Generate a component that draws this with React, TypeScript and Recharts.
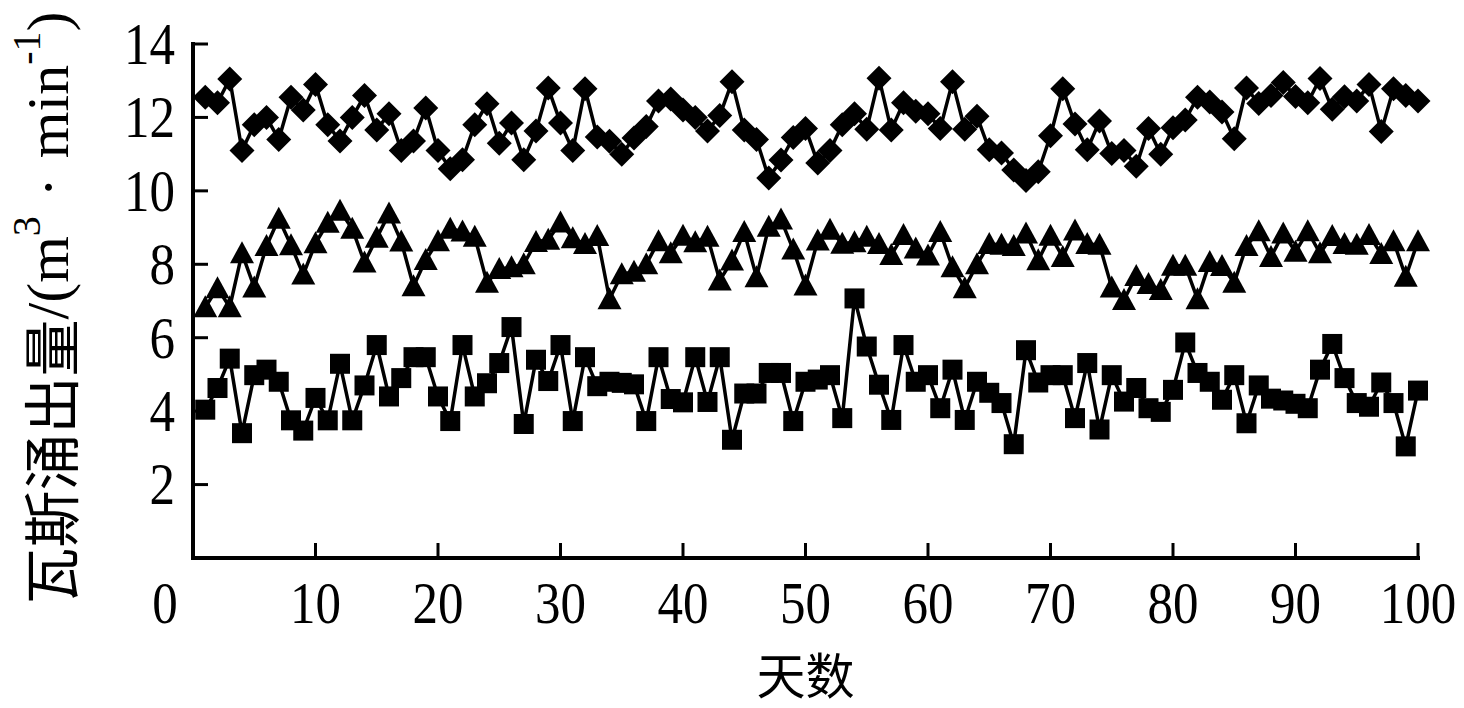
import React from 'react';
import { LineChart, Line, XAxis, YAxis } from 'recharts';

const days: number[] = Array.from({ length: 100 }, (_, i) => i + 1);

const diamondSeries: number[] = [
  12.55, 12.4, 13.05, 11.1, 11.8, 12.0, 11.4, 12.55, 12.2, 12.9,
  11.8, 11.36, 12.0, 12.6, 11.66, 12.1, 11.1, 11.36, 12.26, 11.1,
  10.6, 10.85, 11.8, 12.37, 11.3, 11.85, 10.85, 11.63, 12.8, 11.85,
  11.1, 12.78, 11.47, 11.35, 11.0, 11.44, 11.75, 12.45, 12.5, 12.2,
  12.0, 11.63, 12.05, 12.97, 11.66, 11.4, 10.35, 10.84, 11.45, 11.7,
  10.76, 11.1, 11.8, 12.1, 11.68, 13.07, 11.66, 12.4, 12.17, 12.1,
  11.7, 12.97, 11.68, 12.03, 11.12, 11.03, 10.57, 10.28, 10.52, 11.5,
  12.78, 11.82, 11.12, 11.9, 11.02, 11.1, 10.67, 11.7, 11.0, 11.72,
  11.93, 12.55, 12.42, 12.15, 11.42, 12.8, 12.38, 12.6, 12.95, 12.57,
  12.4, 13.06, 12.22, 12.56, 12.45, 12.9, 11.62, 12.78, 12.6, 12.45,
];

const triangleSeries: number[] = [
  6.83, 7.35, 6.83, 8.3, 7.37, 8.5, 9.24, 8.52, 7.72, 8.57,
  9.13, 9.46, 8.97, 8.05, 8.72, 9.38, 8.62, 7.4, 8.12, 8.63,
  8.97, 8.89, 8.75, 7.5, 7.87, 7.92, 8.0, 8.61, 8.67, 9.14,
  8.71, 8.55, 8.77, 7.05, 7.73, 7.8, 8.0, 8.63, 8.3, 8.78,
  8.6, 8.75, 7.56, 8.1, 8.88, 7.65, 9.02, 9.22, 8.4, 7.42,
  8.65, 8.94, 8.56, 8.6, 8.75, 8.55, 8.25, 8.8, 8.43, 8.24,
  8.88, 7.92, 7.35, 8.0, 8.55, 8.53, 8.5, 8.84, 8.11, 8.78,
  8.2, 8.92, 8.55, 8.53, 7.37, 7.03, 7.68, 7.46, 7.3, 7.96,
  7.96, 7.05, 8.06, 7.95, 7.5, 8.5, 8.9, 8.2, 8.84, 8.34,
  8.9, 8.3, 8.77, 8.55, 8.53, 8.8, 8.28, 8.63, 7.66, 8.63,
];

const squareSeries: number[] = [
  4.04, 4.63, 5.43, 3.4, 4.98, 5.13, 4.8, 3.75, 3.47, 4.36,
  3.75, 5.29, 3.75, 4.7, 5.8, 4.4, 4.9, 5.47, 5.47, 4.4,
  3.73, 5.8, 4.4, 4.76, 5.31, 6.29, 3.65, 5.4, 4.82, 5.8,
  3.73, 5.47, 4.68, 4.8, 4.77, 4.73, 3.73, 5.47, 4.33, 4.24,
  5.47, 4.25, 5.47, 3.22, 4.48, 4.48, 5.04, 5.04, 3.73, 4.8,
  4.86, 4.98, 3.81, 7.07, 5.76, 4.72, 3.76, 5.8, 4.8, 4.98,
  4.08, 5.13, 3.76, 4.8, 4.5, 4.22, 3.1, 5.66, 4.78, 4.98,
  4.98, 3.81, 5.31, 3.5, 4.98, 4.26, 4.63, 4.08, 3.98, 4.58,
  5.87, 5.04, 4.8, 4.31, 4.98, 3.67, 4.7, 4.34, 4.29, 4.2,
  4.08, 5.13, 5.83, 4.9, 4.22, 4.12, 4.78, 4.22, 3.04, 4.56,
];

const xTicks: number[] = [0, 10, 20, 30, 40, 50, 60, 70, 80, 90, 100];
const yTicks: number[] = [2, 4, 6, 8, 10, 12, 14];
const xTitle = '天数';
const yTitleCJK = '瓦斯涌出量';

const data = days.map((d, i) => ({
  day: d,
  diamond: diamondSeries[i],
  triangle: triangleSeries[i],
  square: squareSeries[i],
}));

const SERIF = '"Liberation Serif", "Times New Roman", serif';
const CJK = '"Noto Sans CJK SC", sans-serif';

const renderDiamond = (p: any) => {
  const { cx, cy, index } = p;
  if (cx == null || cy == null) return <g key={`d-${index}`} />;
  const r = 12.5;
  return (
    <polygon
      key={`d-${index}`}
      points={`${cx},${cy - r} ${cx + r},${cy} ${cx},${cy + r} ${cx - r},${cy}`}
      fill="#000"
    />
  );
};

const renderTriangle = (p: any) => {
  const { cx, cy, index } = p;
  if (cx == null || cy == null) return <g key={`t-${index}`} />;
  return (
    <polygon
      key={`t-${index}`}
      points={`${cx},${cy - 12} ${cx + 12},${cy + 10} ${cx - 12},${cy + 10}`}
      fill="#000"
    />
  );
};

const renderSquare = (p: any) => {
  const { cx, cy, index } = p;
  if (cx == null || cy == null) return <g key={`s-${index}`} />;
  const h = 10;
  return <rect key={`s-${index}`} x={cx - h} y={cy - h} width={2 * h} height={2 * h} fill="#000" />;
};

const XTick = (props: any) => {
  const { x, y, payload } = props;
  const shift = payload.value === 0 ? -28 : 0;
  return (
    <g>
      {payload.value !== 0 && (
        <line x1={x} y1={y} x2={x} y2={y - 15} stroke="#000" strokeWidth={3} />
      )}
      <g transform={`translate(${x + shift},${y + 45}) scale(1,1.17)`}>
        <text
          x={0}
          y={0}
          textAnchor="middle"
          dominantBaseline="central"
          fontFamily={SERIF}
          fontSize={51}
          fill="#000"
        >
          {payload.value}
        </text>
      </g>
    </g>
  );
};

const YTick = (props: any) => {
  const { x, y, payload } = props;
  return (
    <g>
      <line x1={x} y1={y} x2={x + 15} y2={y} stroke="#000" strokeWidth={3} />
      <g transform={`translate(${x - 18},${y}) scale(1,1.17)`}>
        <text
          x={0}
          y={0}
          textAnchor="end"
          dominantBaseline="central"
          fontFamily={SERIF}
          fontSize={51}
          fill="#000"
        >
          {payload.value}
        </text>
      </g>
    </g>
  );
};

const YTitle = (props: any) => {
  const vb = props.viewBox || { x: 0, y: 44, width: 193, height: 514 };
  const cy = vb.y + vb.height / 2 + 7;
  return (
    <text
      transform={`translate(48,${cy}) rotate(-90)`}
      textAnchor="middle"
      dominantBaseline="central"
      fill="#000"
      fontFamily={SERIF}
      fontSize={60}
    >
      <tspan fontFamily={CJK} fontSize={57}>{yTitleCJK}</tspan>
      <tspan>/(m</tspan>
      <tspan fontSize={40} dy={-22}>3</tspan>
      <tspan dy={22} dx={4}>{' · '}</tspan>
      <tspan dx={4}>min</tspan>
      <tspan fontSize={40} dy={-22}>-1</tspan>
      <tspan dy={22}>)</tspan>
    </text>
  );
};

const XTitle = (props: any) => {
  const vb = props.viewBox || { x: 193, y: 558, width: 1225, height: 150 };
  return (
    <text
      x={vb.x + vb.width / 2}
      y={672}
      textAnchor="middle"
      dominantBaseline="central"
      fontFamily={CJK}
      fontSize={49}
      fill="#000"
    >
      {xTitle}
    </text>
  );
};

export default function App() {
  return (
    <div style={{ position: 'absolute', left: 0, top: 0, width: 1464, height: 708, background: '#fff' }}>
      <LineChart
        width={1464}
        height={708}
        data={data}
        margin={{ top: 44, right: 46, bottom: 0, left: 0 }}
      >
        <XAxis
          dataKey="day"
          type="number"
          domain={[0, 100]}
          ticks={xTicks}
          interval={0}
          height={150}
          tickSize={0}
          tickMargin={0}
          tickLine={false}
          axisLine={{ stroke: '#000', strokeWidth: 4, strokeLinecap: 'square' }}
          tick={<XTick />}
          label={<XTitle />}
        />
        <YAxis
          type="number"
          domain={[0, 14]}
          ticks={yTicks}
          interval={0}
          width={193}
          tickSize={0}
          tickMargin={0}
          tickLine={false}
          axisLine={{ stroke: '#000', strokeWidth: 4, strokeLinecap: 'square' }}
          tick={<YTick />}
          label={<YTitle />}
        />
        <Line
          dataKey="square"
          stroke="#000"
          strokeWidth={3.5}
          dot={renderSquare}
          activeDot={false}
          isAnimationActive={false}
        />
        <Line
          dataKey="triangle"
          stroke="#000"
          strokeWidth={3.5}
          dot={renderTriangle}
          activeDot={false}
          isAnimationActive={false}
        />
        <Line
          dataKey="diamond"
          stroke="#000"
          strokeWidth={3.5}
          dot={renderDiamond}
          activeDot={false}
          isAnimationActive={false}
        />
      </LineChart>
    </div>
  );
}
